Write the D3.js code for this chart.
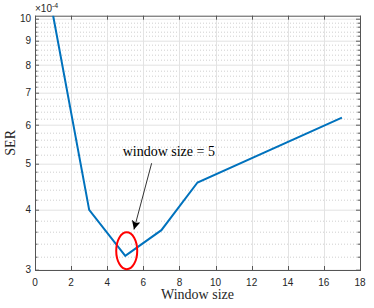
<!DOCTYPE html>
<html>
<head>
<meta charset="utf-8">
<script src="https://cdn.jsdelivr.net/npm/d3@7"></script>
<style>
  body { margin: 0; background: #fff; }
  svg text { fill: #262626; }
</style>
</head>
<body>
<div id="chart"></div>
<script>
// data: SER against window size
const windowSize = [1, 3, 5, 7, 9, 17];
const ser = [10.15e-4, 4.0e-4, 3.21e-4, 3.63e-4, 4.56e-4, 6.22e-4];
const xTicks = [0, 2, 4, 6, 8, 10, 12, 14, 16, 18];
const yTicks = [3, 4, 5, 6, 7, 8, 9, 10];

const W = 374, H = 308;
const margin = {top: 15.7, right: 14, bottom: 38, left: 35};
const width = W - margin.left - margin.right,
      height = H - margin.top - margin.bottom;

const x = d3.scaleLinear().domain([0, 18]).range([0, width]);
const y = d3.scaleLog().domain([3e-4, 10.13e-4]).range([height, 0]);

// minor ticks every 0.2 (x1e-4)
const yMinor = [];
for (let k = 0; k < 8; k++) {
  for (let j = 1; j < 5; j++) {
    const v = +(yTicks[k] + j * 0.2).toFixed(1);
    if (v * 1e-4 <= 10.13e-4) yMinor.push(v);
  }
}

const svg = d3.select("#chart").append("svg")
    .attr("width", W)
    .attr("height", H);

const g = svg.append("g")
    .attr("transform", "translate(" + margin.left + "," + margin.top + ")");

// minor grid (dotted)
g.selectAll(".yminor")
    .data(yMinor)
  .enter().append("line")
    .attr("x1", 0).attr("x2", width)
    .attr("y1", d => Math.round(y(d * 1e-4)) + 0.5)
    .attr("y2", d => Math.round(y(d * 1e-4)) + 0.5)
    .attr("stroke", "#cfcfcf")
    .attr("stroke-dasharray", "1,2");

// major grid
g.selectAll(".ygrid")
    .data(yTicks)
  .enter().append("line")
    .attr("x1", 0).attr("x2", width)
    .attr("y1", d => Math.round(y(d * 1e-4)) + 0.5)
    .attr("y2", d => Math.round(y(d * 1e-4)) + 0.5)
    .attr("stroke", "#e3e3e3");

g.selectAll(".xgrid")
    .data(xTicks)
  .enter().append("line")
    .attr("x1", d => Math.round(x(d)) + 0.5)
    .attr("x2", d => Math.round(x(d)) + 0.5)
    .attr("y1", 0).attr("y2", height)
    .attr("stroke", "#e3e3e3");

// ticks (inward, on all four sides)
const tickCol = "#333";
const ticks = g.append("g").attr("stroke", tickCol).attr("stroke-width", 0.8);
xTicks.forEach(d => {
  const px = Math.round(x(d)) + 0.5;
  ticks.append("line").attr("x1", px).attr("x2", px).attr("y1", height).attr("y2", height - 4);
  ticks.append("line").attr("x1", px).attr("x2", px).attr("y1", 0).attr("y2", 4);
});
yTicks.forEach(d => {
  const py = Math.round(y(d * 1e-4)) + 0.5;
  ticks.append("line").attr("x1", 0).attr("x2", 4).attr("y1", py).attr("y2", py);
  ticks.append("line").attr("x1", width).attr("x2", width - 4).attr("y1", py).attr("y2", py);
});
yMinor.forEach(d => {
  const py = Math.round(y(d * 1e-4)) + 0.5;
  ticks.append("line").attr("x1", 0).attr("x2", 2.5).attr("y1", py).attr("y2", py);
  ticks.append("line").attr("x1", width).attr("x2", width - 2.5).attr("y1", py).attr("y2", py);
});

// axis box
g.append("rect")
    .attr("x", 0.5).attr("y", 0.5)
    .attr("width", width).attr("height", height)
    .attr("fill", "none")
    .attr("stroke", "#555")
    .attr("stroke-width", 1);

// tick labels
g.selectAll(".xlab")
    .data(xTicks)
  .enter().append("text")
    .attr("x", d => x(d))
    .attr("y", height + 16)
    .attr("text-anchor", "middle")
    .style("font", "10px 'Liberation Sans', Arial, sans-serif")
    .text(d => d);

g.selectAll(".ylab")
    .data(yTicks)
  .enter().append("text")
    .attr("x", -4)
    .attr("y", d => y(d * 1e-4))
    .attr("dy", "0.35em")
    .attr("text-anchor", "end")
    .style("font", "10px 'Liberation Sans', Arial, sans-serif")
    .text(d => d);

// exponent label
const expo = g.append("text")
    .attr("x", 0)
    .attr("y", -4)
    .style("font", "10px 'Liberation Sans', Arial, sans-serif");
expo.append("tspan").text("\u00d710");
expo.append("tspan").attr("dy", -4).style("font-size", "7px").text("-4");

// axis titles
svg.append("text")
    .attr("x", margin.left + width / 2)
    .attr("y", 299)
    .attr("text-anchor", "middle")
    .style("font", "14px 'Liberation Serif', 'Times New Roman', serif")
    .text("Window size");

svg.append("text")
    .attr("transform", "translate(15," + (margin.top + height / 2) + ") rotate(-90)")
    .attr("text-anchor", "middle")
    .style("font", "14px 'Liberation Serif', 'Times New Roman', serif")
    .text("SER");

// clip + line
svg.append("defs").append("clipPath").attr("id", "clip")
  .append("rect").attr("width", width).attr("height", height);

const pts = windowSize.map((d, i) => [d, ser[i]]);
g.append("path")
    .datum(pts)
    .attr("clip-path", "url(#clip)")
    .attr("fill", "none")
    .attr("stroke", "#0072BD")
    .attr("stroke-width", 2)
    .attr("stroke-linejoin", "miter")
    .attr("d", d3.line().x(d => x(d[0])).y(d => y(d[1])));

// annotation: ellipse, arrow, text
g.append("ellipse")
    .attr("cx", x(5.08))
    .attr("cy", y(3.29e-4))
    .attr("rx", 10.5)
    .attr("ry", 18.5)
    .attr("fill", "none")
    .attr("stroke", "#ff0000")
    .attr("stroke-width", 2);

svg.select("defs").append("marker")
    .attr("id", "arrow")
    .attr("viewBox", "0 0 10 10")
    .attr("refX", 10).attr("refY", 5)
    .attr("markerWidth", 9).attr("markerHeight", 9)
    .attr("markerUnits", "userSpaceOnUse")
    .attr("orient", "auto")
  .append("path")
    .attr("d", "M0,0 L10,5 L0,10 L2.5,5 Z")
    .attr("fill", "#000");

g.append("line")
    .attr("x1", x(6.46)).attr("y1", y(5.0e-4))
    .attr("x2", x(5.48)).attr("y2", y(3.64e-4))
    .attr("stroke", "#000")
    .attr("stroke-width", 0.8)
    .attr("marker-end", "url(#arrow)");

g.append("text")
    .attr("x", x(7.41))
    .attr("y", y(5.18e-4))
    .attr("text-anchor", "middle")
    .style("font", "14px 'Liberation Serif', 'Times New Roman', serif")
    .style("fill", "#000")
    .text("window size = 5");
</script>
</body>
</html>
